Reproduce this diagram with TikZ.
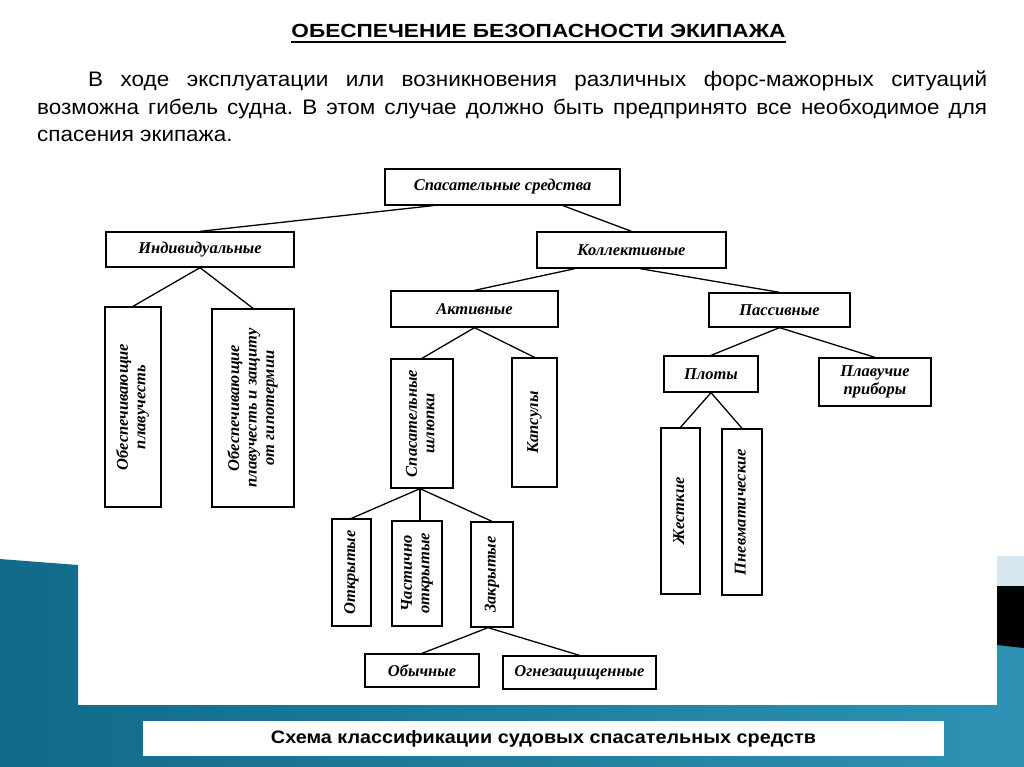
\documentclass[tikz,border=0pt]{standalone}
\usepackage{fontspec}
\setmainfont{Liberation Serif}
\setsansfont{Liberation Sans}
\newfontfamily\titlefont[FakeStretch=1.19]{Liberation Sans}
\newfontfamily\introfont[FakeStretch=1.07]{Liberation Sans}
\newfontfamily\capfont[FakeStretch=1.1]{Liberation Sans}
\usetikzlibrary{positioning,calc}
\definecolor{slideteal}{RGB}{16,106,136}
\definecolor{slidetealL}{RGB}{46,146,180}
\definecolor{slidepale}{RGB}{214,230,240}
\newcommand{\vtext}[1]{\rotatebox{90}{\begin{tabular}{@{}c@{}}#1\end{tabular}}}
\frenchspacing

\begin{document}
\begin{tikzpicture}[x=1pt,y=-1pt,
	box/.style={draw,line width=1.3pt,inner sep=0pt,align=center,font=\fontsize{16.5}{17.5}\selectfont\bfseries\itshape},
	branch/.style={line width=1.3pt}]
	\useasboundingbox (0,0) rectangle (1024,767);
	\fill[white] (0,0) rectangle (1024,767);
	% slide frame
	\shade[left color=slideteal,right color=slidetealL] (0,559) -- (78,565) -- (78,705) -- (997,705) -- (997,556)
		-- (1024,556) -- (1024,767) -- (0,767) -- cycle;
	\fill[slidepale] (997,556) rectangle (1024,586);
	\fill[black] (997,586) -- (1024,586) -- (1024,648) -- (997,645) -- cycle;
	% heading and text
	\node[anchor=base,inner sep=0pt,font=\titlefont\bfseries\fontsize{19}{24}\selectfont] (title) at (538.5,37.5)
		{ОБЕСПЕЧЕНИЕ БЕЗОПАСНОСТИ ЭКИПАЖА};
	\draw[line width=1.8pt] ($(title.base west)+(0,4.5)$) -- ($(title.base east)+(0,4.5)$);
	\node[anchor=north west,inner sep=0pt,text width=950,align=justify,font=\introfont\fontsize{21}{27.5}\selectfont] (intro) at (37,71)
		{\hspace*{51pt}В ходе эксплуатации или возникновения различных форс-мажорных ситуаций\linebreak
		возможна гибель судна. В этом случае должно быть предпринято все необходимое для\linebreak
		спасения экипажа.};
	% tree
	\node[box,minimum width=235,minimum height=36] (root) at (502.5,187) {Спасательные средства};
	\node[box,minimum width=188,minimum height=35] (ind) at (200,249.5) {Индивидуальные};
	\node[box,minimum width=189,minimum height=36] (kol) at (631.5,250) {Коллективные};
	\node[box,minimum width=56,minimum height=200] (ob1) at (133,407) {\vtext{Обеспечивающие\\плавучесть}};
	\node[box,minimum width=82,minimum height=198] (ob2) at (253,408) {\vtext{Обеспечивающие\\плавучесть и защиту\\от гипотермии}};
	\node[box,minimum width=167,minimum height=36] (akt) at (474.5,309) {Активные};
	\node[box,minimum width=141,minimum height=34] (pas) at (779.5,310) {Пассивные};
	\node[box,minimum width=62,minimum height=129] (shl) at (422,423.5) {\vtext{Спасательные\\шлюпки}};
	\node[box,minimum width=45,minimum height=129] (kap) at (534.5,422.5) {\vtext{Капсулы}};
	\node[box,minimum width=94,minimum height=36] (plo) at (711,374) {Плоты};
	\node[box,minimum width=112,minimum height=48] (pri) at (875,382) {Плавучие\\приборы};
	\node[box,minimum width=39,minimum height=166] (zh) at (680.5,511) {\vtext{Жесткие}};
	\node[box,minimum width=40,minimum height=166] (pn) at (742,512) {\vtext{Пневматические}};
	\node[box,minimum width=39,minimum height=107] (otk) at (351.5,572.5) {\vtext{Открытые}};
	\node[box,minimum width=50,minimum height=105] (cha) at (417,573.5) {\vtext{Частично\\открытые}};
	\node[box,minimum width=42,minimum height=105] (zak) at (492,574.5) {\vtext{Закрытые}};
	\node[box,minimum width=114,minimum height=33] (obn) at (422,670.5) {Обычные};
	\node[box,minimum width=153,minimum height=33] (ogn) at (579.5,672.5) {Огнезащищенные};
	\draw[branch] ([xshift=-69.5pt]root.south) -- (ind.north);
	\draw[branch] ([xshift=60.5pt]root.south) -- (kol.north);
	\draw[branch] (ind.south) -- (ob1.north);
	\draw[branch] (ind.south) -- (ob2.north);
	\draw[branch] ([xshift=-56.5pt]kol.south) -- (akt.north);
	\draw[branch] ([xshift=8.5pt]kol.south) -- (pas.north);
	\draw[branch] (akt.south) -- (shl.north);
	\draw[branch] (akt.south) -- (kap.north);
	\draw[branch] (pas.south) -- (plo.north);
	\draw[branch] (pas.south) -- (pri.north);
	\draw[branch] (plo.south) -- (zh.north);
	\draw[branch] (plo.south) -- (pn.north);
	\draw[branch] ([xshift=-2pt]shl.south) -- (otk.north);
	\draw[branch] ([xshift=-2pt]shl.south) -- ([xshift=3pt]cha.north);
	\draw[branch] ([xshift=-2pt]shl.south) -- (zak.north);
	\draw[branch] ([xshift=-4pt]zak.south) -- (obn.north);
	\draw[branch] ([xshift=-4pt]zak.south) -- (ogn.north);
	% caption
	\node[fill=white,minimum width=801,minimum height=35,font=\capfont\bfseries\fontsize{18}{20}\selectfont] (caption) at (543.5,738.5)
		{Схема классификации судовых спасательных средств};
\end{tikzpicture}
\end{document}
